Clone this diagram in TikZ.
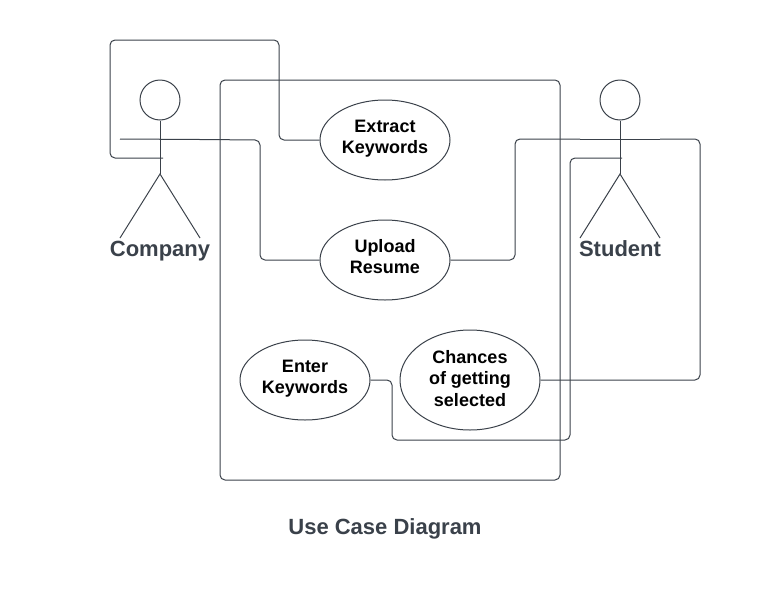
\documentclass[tikz,border=0pt]{standalone}
\usepackage{fontspec}
\setmainfont{Liberation Sans}
\usetikzlibrary{shapes.geometric}
\definecolor{ink}{HTML}{3A414A}
\tikzset{
  usecase/.style={draw=ink,line width=1pt,ellipse,inner sep=0pt,align=center,font=\fontsize{18}{21.25}\selectfont\bfseries,text=black,text height=32.5pt,text depth=5pt},
  head/.style={draw=ink,line width=1pt,circle,inner sep=0pt,minimum size=40pt},
  stick/.style={draw=ink,line width=1pt},
  wire/.style={draw=ink,line width=1pt,rounded corners=5pt},
  actorlabel/.style={font=\fontsize{22}{26}\selectfont\bfseries,text=ink,inner sep=0pt,anchor=base}
}
\begin{document}
\begin{tikzpicture}[x=1pt,y=-1pt]
\useasboundingbox (0,0) rectangle (780,600);
\node[draw=ink,line width=1pt,rounded corners=5pt,minimum width=340pt,minimum height=400pt,inner sep=0pt] (system) at (390,280) {};
% use cases
\node[usecase,minimum width=130pt,minimum height=80pt] (extract) at (385,140) {Extract\\Keywords};
\node[usecase,minimum width=130pt,minimum height=80pt] (upload) at (385,260) {Upload\\Resume};
\node[usecase,minimum width=130pt,minimum height=80pt] (enter) at (305,380) {Enter\\Keywords};
\node[usecase,minimum width=140pt,minimum height=100pt,text height=57pt,text depth=5pt] (chances) at (470,380) {Chances\\of getting\\selected};
% company actor
\node[head] (chead) at (160,100) {};
\coordinate (chip) at (160,174);
\coordinate (carmL) at (120,139);
\coordinate (carmR) at (200,139.5);
\coordinate (clegL) at (120,238);
\coordinate (clegR) at (200,238);
\coordinate (cbody) at (163,158);
\draw[stick] (chead.south) -- (chip);
\draw[stick] (carmL) -- (carmR);
\draw[stick] (clegL) -- (chip) -- (clegR);
\node[actorlabel] (clabel) at (160,256) {Company};
% student actor
\node[head] (shead) at (620,100) {};
\coordinate (ship) at (620,174);
\coordinate (sarmL) at (580,139);
\coordinate (sarmR) at (660,139);
\coordinate (slegL) at (580,238);
\coordinate (slegR) at (660,238);
\coordinate (sbody) at (622,158);
\draw[stick] (shead.south) -- (ship);
\draw[stick] (sarmL) -- (sarmR);
\draw[stick] (slegL) -- (ship) -- (slegR);
\node[actorlabel] (slabel) at (620,256) {Student};
% connectors
\draw[wire] (cbody) -| (110,40) -| (279,140) -- (extract.west);
\draw[wire] (carmR) -- (260,140) |- (upload.west);
\draw[wire] (sarmL) -| (515,260) -- (upload.east);
\draw[wire] (sarmR) -| (700,380) -- (chances.east);
\draw[wire] (sbody) -| (570,440) -| (392,380) -- (enter.east);
% title
\node[font=\fontsize{22}{26}\selectfont\bfseries,text=ink,inner sep=0pt,anchor=base] (title) at (385,534.5) {Use Case Diagram};
\end{tikzpicture}
\end{document}
